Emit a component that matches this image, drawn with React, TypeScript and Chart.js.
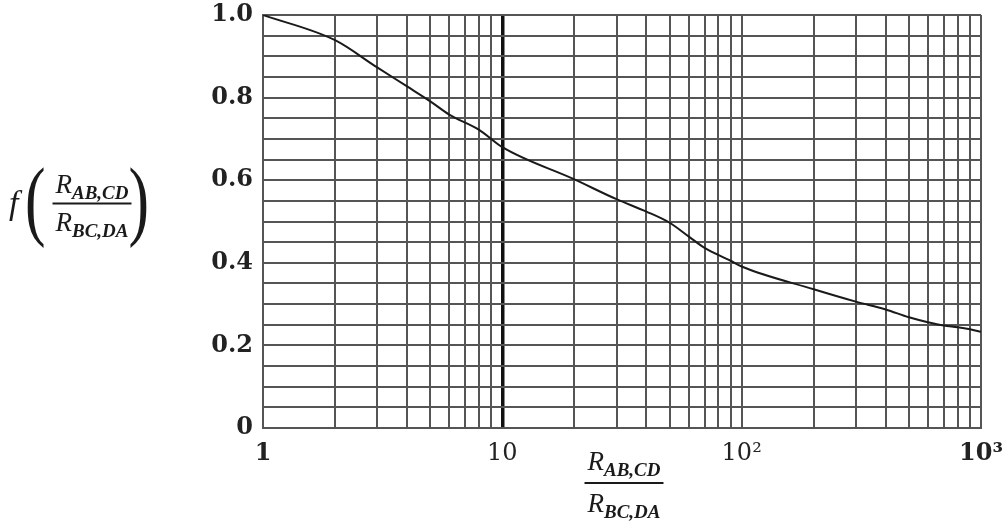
import { useEffect, useRef } from "react";
import { Chart, registerables } from "chart.js";

Chart.register(...registerables);

// Ratio R_AB,CD / R_BC,DA (x, log scale) and the correction factor f (y)
const ratioValues = [1, 2, 3, 4, 5, 6, 8, 10, 20, 30, 40, 50, 60, 70, 90, 100, 200, 300, 400, 500, 600, 700, 800, 900, 1000];
const fValues = [1.0, 0.939, 0.873, 0.827, 0.791, 0.759, 0.722, 0.68, 0.602, 0.554, 0.524, 0.497, 0.464, 0.436, 0.405, 0.391, 0.336, 0.306, 0.287, 0.268, 0.256, 0.248, 0.244, 0.239, 0.233];

// log-paper grid lines on x
const xGridValues = [1, 2, 3, 4, 5, 6, 7, 8, 9, 10, 20, 30, 40, 50, 60, 70, 80, 90, 100, 200, 300, 400, 500, 600, 700, 800, 900, 1000];
const xTickLabels: Record<number, string> = { 1: "1", 10: "10", 100: "10²", 1000: "10³" };
const xMin = 1;
const xMax = 1000;

const yMin = 0;
const yMax = 1;
const yGridStep = 0.05;
const yLabelStep = 0.2;

const titleMain = "R";
const titleNumSub = "AB,CD";
const titleDenSub = "BC,DA";
const yTitleFn = "f";

const INK = "#1a1a1a";
const GRID = "#555555";

function drawTerm(ctx: CanvasRenderingContext2D, cx: number, baseline: number, main: string, sub: string) {
  const mainFont = "italic 27px 'Liberation Serif'";
  const subFont = "italic bold 19px 'Liberation Serif'";
  ctx.font = mainFont;
  const mw = ctx.measureText(main).width;
  ctx.font = subFont;
  const sw = ctx.measureText(sub).width;
  const total = mw + sw;
  const start = cx - total / 2;
  ctx.textAlign = "left";
  ctx.textBaseline = "alphabetic";
  ctx.font = mainFont;
  ctx.fillText(main, start, baseline);
  ctx.font = subFont;
  ctx.fillText(sub, start + mw, baseline + 6);
  return total;
}

function drawFraction(ctx: CanvasRenderingContext2D, cx: number, numBase: number, lineY: number, denBase: number) {
  const w1 = drawTerm(ctx, cx, numBase, titleMain, titleNumSub);
  const w2 = drawTerm(ctx, cx, denBase, titleMain, titleDenSub);
  const w = Math.max(w1, w2) + 6;
  ctx.beginPath();
  ctx.lineWidth = 2;
  ctx.moveTo(cx - w / 2, lineY);
  ctx.lineTo(cx + w / 2, lineY);
  ctx.stroke();
}

function drawParen(ctx: CanvasRenderingContext2D, ch: string, x: number, baseline: number, align: CanvasTextAlign) {
  ctx.save();
  ctx.translate(x, baseline);
  ctx.scale(1.4, 2);
  ctx.font = "44px 'Liberation Serif'";
  ctx.textAlign = align;
  ctx.textBaseline = "alphabetic";
  ctx.fillText(ch, 0, 0);
  ctx.restore();
}

const fractionTitles = {
  id: "fractionTitles",
  afterDraw(chart: any) {
    const ctx: CanvasRenderingContext2D = chart.ctx;
    const area = chart.chartArea;
    ctx.save();
    ctx.fillStyle = INK;
    ctx.strokeStyle = INK;
    // x-axis title
    drawFraction(ctx, (area.left + area.right) / 2 + 2, area.bottom + 42, area.bottom + 55, area.bottom + 84);
    // y-axis title: f( fraction )
    const midY = (area.top + area.bottom) / 2;
    ctx.font = "italic 34px 'Liberation Serif'";
    ctx.textAlign = "left";
    ctx.textBaseline = "alphabetic";
    ctx.fillText(yTitleFn, 9, midY - 8);
    drawFraction(ctx, 92, midY - 29, midY - 18, midY + 9);
    drawParen(ctx, "(", 25, midY + 7, "left");
    drawParen(ctx, ")", 149, midY + 7, "right");
    ctx.restore();
  },
};

export default function App() {
  const canvasRef = useRef<HTMLCanvasElement | null>(null);

  useEffect(() => {
    if (!canvasRef.current) return;
    const chart = new Chart(canvasRef.current, {
      type: "line",
      data: {
        datasets: [
          {
            data: ratioValues.map((x, i) => ({ x, y: fValues[i] })),
            borderColor: INK,
            borderWidth: 2,
            pointRadius: 0,
            tension: 0.3,
            cubicInterpolationMode: "monotone",
            fill: false,
          },
        ],
      },
      options: {
        animation: false,
        responsive: false,
        layout: { padding: { top: 15, right: 21, left: 0, bottom: 0 } },
        plugins: { legend: { display: false }, tooltip: { enabled: false } },
        scales: {
          x: {
            type: "logarithmic",
            min: xMin,
            max: xMax,
            afterBuildTicks: (s: any) => {
              s.ticks = xGridValues.map((v) => ({ value: v }));
            },
            afterFit: (s: any) => {
              s.height = 99;
              s.paddingLeft = 0;
              s.paddingRight = 0;
            },
            ticks: {
              autoSkip: false,
              maxRotation: 0,
              padding: 11,
              color: "#222",
              font: (c: any) => ({
                family: "'DejaVu Serif'",
                size: 24,
                weight: c.tick && (c.tick.value === 1 || c.tick.value === 1000) ? "bold" : "normal",
              }),
              callback: (v: any) => xTickLabels[Number(v)] ?? "",
            },
            grid: {
              drawTicks: false,
              color: (c: any) => (c.tick && c.tick.value === 10 ? "#111" : GRID),
              lineWidth: (c: any) => (c.tick && c.tick.value === 10 ? 3.5 : 2),
            },
            border: { color: GRID, width: 2 },
          },
          y: {
            type: "linear",
            min: yMin,
            max: yMax,
            afterFit: (s: any) => {
              s.width = 263;
              s.paddingTop = 0;
              s.paddingBottom = 0;
            },
            ticks: {
              stepSize: yGridStep,
              autoSkip: false,
              padding: 10,
              color: "#222",
              font: { family: "'DejaVu Serif'", size: 24, weight: "bold" },
              callback: (v: any) => {
                const n = Number(v);
                const k = n / yLabelStep;
                if (Math.abs(k - Math.round(k)) > 1e-6) return "";
                return n === 0 ? "0" : n.toFixed(1);
              },
            },
            grid: { drawTicks: false, color: GRID, lineWidth: 2 },
            border: { color: GRID, width: 2 },
          },
        },
      },
      plugins: [fractionTitles],
    } as any);
    return () => chart.destroy();
  }, []);

  return (
    <div style={{ position: "absolute", left: 0, top: 0, width: 1002, height: 527, background: "#fff" }}>
      <canvas ref={canvasRef} width={1002} height={527} style={{ display: "block" }} />
    </div>
  );
}
